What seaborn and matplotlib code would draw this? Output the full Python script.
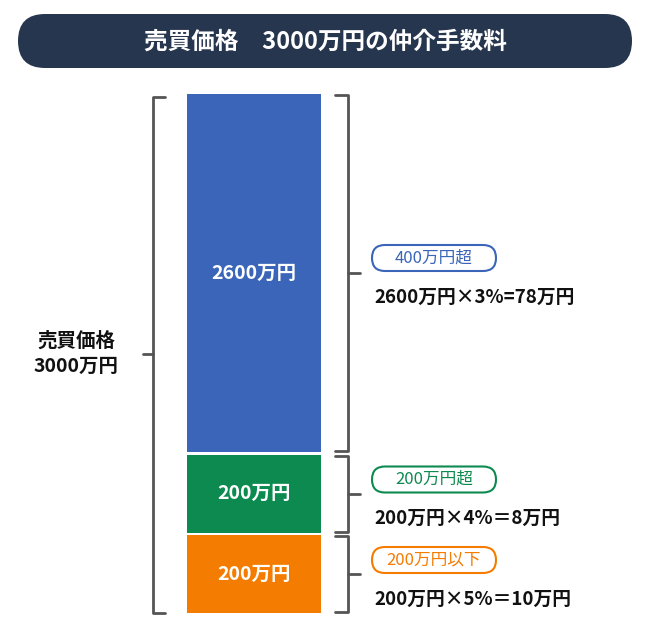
import matplotlib
matplotlib.use("Agg")
import matplotlib.pyplot as plt
import seaborn as sns
from matplotlib.patches import FancyBboxPatch

sns.set_theme(style="white")
plt.rcParams['font.family'] = ['Noto Sans CJK JP', 'DejaVu Sans']

title = "売買価格　3000万円の仲介手数料"
total_label = "売買価格\n3000万円"
segments = ["200万円以下", "200万円超", "400万円超"]
amounts = [200, 200, 2600]          # 万円
rates = [5, 4, 3]                   # %
fees = [10, 8, 78]                  # 万円
colors = ["#f47c00", "#0c8a4f", "#3a65b8"]
formulas = ["200万円×5%＝10万円", "200万円×4%＝8万円", "2600万円×3%=78万円"]
# visual (non-proportional) segment heights used by the original design
display_heights = [78, 78, 358]

fig = plt.figure(figsize=(6.5, 6.35), dpi=100)
ax = fig.add_axes([0, 0, 1, 1])
ax.set_xlim(0, 650)
ax.set_ylim(635, 0)
ax.axis("off")

# title
ax.add_patch(FancyBboxPatch((18, 14), 614, 54, boxstyle="round,pad=0,rounding_size=27",
                            fc="#27364f", ec="none"))
ax.text(325, 42, title, color="white", fontsize=17, fontweight="bold", ha="center", va="center")

gap = 2.5
base = 613
bottoms = []
b = base
for h in display_heights:
    bottoms.append(b)
    b = b - h - gap
ax.bar([254] * 3, [-h for h in display_heights], bottom=bottoms, width=134,
       color=colors, edgecolor="none")

grey = "#555555"
for i, (h, bt) in enumerate(zip(display_heights, bottoms)):
    mid = bt - h / 2
    ax.text(254, mid, f"{amounts[i]}万円", color="white", fontsize=14, fontweight="bold",
            ha="center", va="center")
    top = bt - h
    # right bracket
    ax.plot([335, 348, 348, 335], [top + 1, top + 1, bt - 1, bt - 1], color=grey, lw=2)
    ax.plot([348, 360], [mid, mid], color=grey, lw=2)
    py = top + h * 0.45 if i == 2 else top + 25
    if i == 2:
        py = 258
    ax.add_patch(FancyBboxPatch((372, py - 13), 124, 26, boxstyle="round,pad=0,rounding_size=13",
                                fc="white", ec=colors[i], lw=1.5))
    ax.text(434, py, segments[i], color=colors[i], fontsize=12, ha="center", va="center")
    ax.text(374, py + 39, formulas[i], color="#111111", fontsize=13.5, fontweight="bold",
            ha="left", va="center")

# left bracket
ax.plot([165, 153, 153, 165], [97, 97, 613, 613], color=grey, lw=2)
ax.plot([143, 153], [354, 354], color=grey, lw=2)
ax.text(76, 354, total_label, color="#111111", fontsize=14, fontweight="bold",
        ha="center", va="center", linespacing=1.4)

fig.savefig("out.png", dpi=100)
